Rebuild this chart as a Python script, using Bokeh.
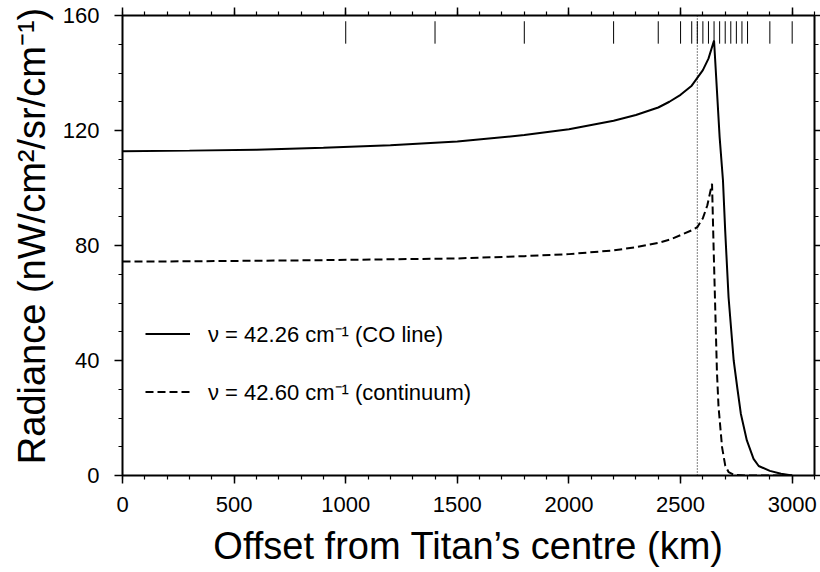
from bokeh.plotting import figure
from bokeh.models import (LinearAxis, Range1d, Span, Legend, LegendItem,
                          SingleIntervalTicker, CustomJSTickFormatter)
from bokeh.embed import file_html
from bokeh.resources import INLINE

# ---- data ----
offset_co = [0, 300, 600, 900, 1200, 1500, 1800, 2000, 2200, 2300, 2400, 2450,
             2500, 2550, 2600, 2625, 2650, 2675, 2690, 2700, 2715, 2738, 2755,
             2770, 2797, 2827, 2850, 2900, 2950, 3000]
radiance_co = [112.8, 113.0, 113.3, 114.0, 114.9, 116.2, 118.4, 120.4, 123.4,
               125.4, 128.0, 130.0, 132.4, 135.6, 141.0, 145.0, 151.3, 117.7,
               102.6, 85.0, 62.0, 40.0, 30.0, 21.5, 12.2, 5.8, 3.3, 1.6, 0.6, 0.0]

offset_cont = [0, 300, 600, 900, 1200, 1500, 1800, 2000, 2200, 2300, 2400, 2450,
               2500, 2550, 2575, 2600, 2620, 2641, 2648, 2656, 2663, 2670, 2686,
               2700, 2715, 2740, 2800, 3000]
radiance_cont = [74.4, 74.5, 74.7, 74.9, 75.2, 75.5, 76.3, 77.0, 78.3, 79.4,
                 80.9, 82.0, 83.6, 85.3, 86.4, 89.5, 94.0, 101.5, 79.4, 56.2,
                 36.0, 24.0, 9.8, 3.5, 1.2, 0.2, 0.0, 0.0]

titan_surface = 2575
fov_marks = [1000, 1400, 1800, 2200, 2400, 2500, 2550, 2575, 2600, 2625, 2650,
             2675, 2700, 2725, 2750, 2775, 2800, 2900, 3000]

label_co = "\u03bd = 42.26 cm\u207b\u00b9 (CO line)"
label_cont = "\u03bd = 42.60 cm\u207b\u00b9 (continuum)"
x_title = "Offset from Titan\u2019s centre (km)"
y_title = "\u2002Radiance (nW/cm\u00b2/sr/cm\u207b\u00b9)"

FONT = "Liberation Sans"

p = figure(width=820, height=572, x_range=Range1d(0, 3100), y_range=Range1d(0, 160),
           output_backend="svg", toolbar_location=None)
p.min_border_left = 122
p.min_border_right = 6
p.min_border_top = 15
p.min_border_bottom = 97
p.outline_line_color = None
p.grid.visible = False
p.background_fill_color = "white"
p.border_fill_color = "white"


def style_axis(ax, interval, nminor, labels=True, tick_out=8, minor_out=4):
    ax.ticker = SingleIntervalTicker(interval=interval, num_minor_ticks=nminor)
    ax.axis_line_color = "black"
    ax.axis_line_width = 2
    ax.major_tick_in = 0
    ax.major_tick_out = tick_out
    ax.minor_tick_in = 0
    ax.minor_tick_out = minor_out
    ax.major_tick_line_color = "black"
    ax.minor_tick_line_color = "black"
    ax.major_tick_line_width = 1.5
    ax.minor_tick_line_width = 1.2
    if labels:
        ax.major_label_text_font = FONT
        ax.major_label_text_font_size = "22px"
        ax.major_label_text_color = "black"
        ax.axis_label_text_font = FONT
        ax.axis_label_text_font_size = "38px"
        ax.axis_label_text_font_style = "normal"
        ax.axis_label_text_color = "black"
    else:
        ax.formatter = CustomJSTickFormatter(code="return ''")
        ax.major_label_text_font_size = "0px"
        ax.major_label_standoff = 0
        ax.axis_label = None


xa = p.xaxis[0]
style_axis(xa, 500, 5)
xa.axis_label = x_title
xa.major_label_standoff = 13
xa.axis_label_standoff = 10

ya = p.yaxis[0]
style_axis(ya, 40, 4)
ya.axis_label = y_title
ya.major_label_standoff = 15
ya.axis_label_standoff = 7

top = LinearAxis()
style_axis(top, 500, 5, labels=False, tick_out=8, minor_out=4)
p.add_layout(top, "above")

right = LinearAxis()
style_axis(right, 40, 4, labels=False, tick_out=6, minor_out=4)
p.add_layout(right, "right")

# surface of Titan
p.add_layout(Span(location=titan_surface, dimension="height", line_color="black",
                  line_width=1, line_dash="1 2"))

# field-of-view marks near the top
p.segment(x0=fov_marks, y0=150.2, x1=fov_marks, y1=158.0,
          line_color="black", line_width=1)

r_co = p.line(offset_co, radiance_co, line_color="black", line_width=2)
r_cont = p.line(offset_cont, radiance_cont, line_color="black", line_width=2,
                line_dash="8 4")

legend = Legend(items=[LegendItem(label=label_co, renderers=[r_co]),
                       LegendItem(label=label_cont, renderers=[r_cont])],
                location=(23, 69), glyph_width=45, glyph_height=25,
                label_height=25, label_standoff=18, spacing=28, padding=0,
                margin=0, border_line_color=None, background_fill_alpha=0,
                label_text_font=FONT, label_text_font_size="22px",
                label_text_color="black")
p.add_layout(legend)

open("out.html", "w").write(file_html(p, INLINE))
